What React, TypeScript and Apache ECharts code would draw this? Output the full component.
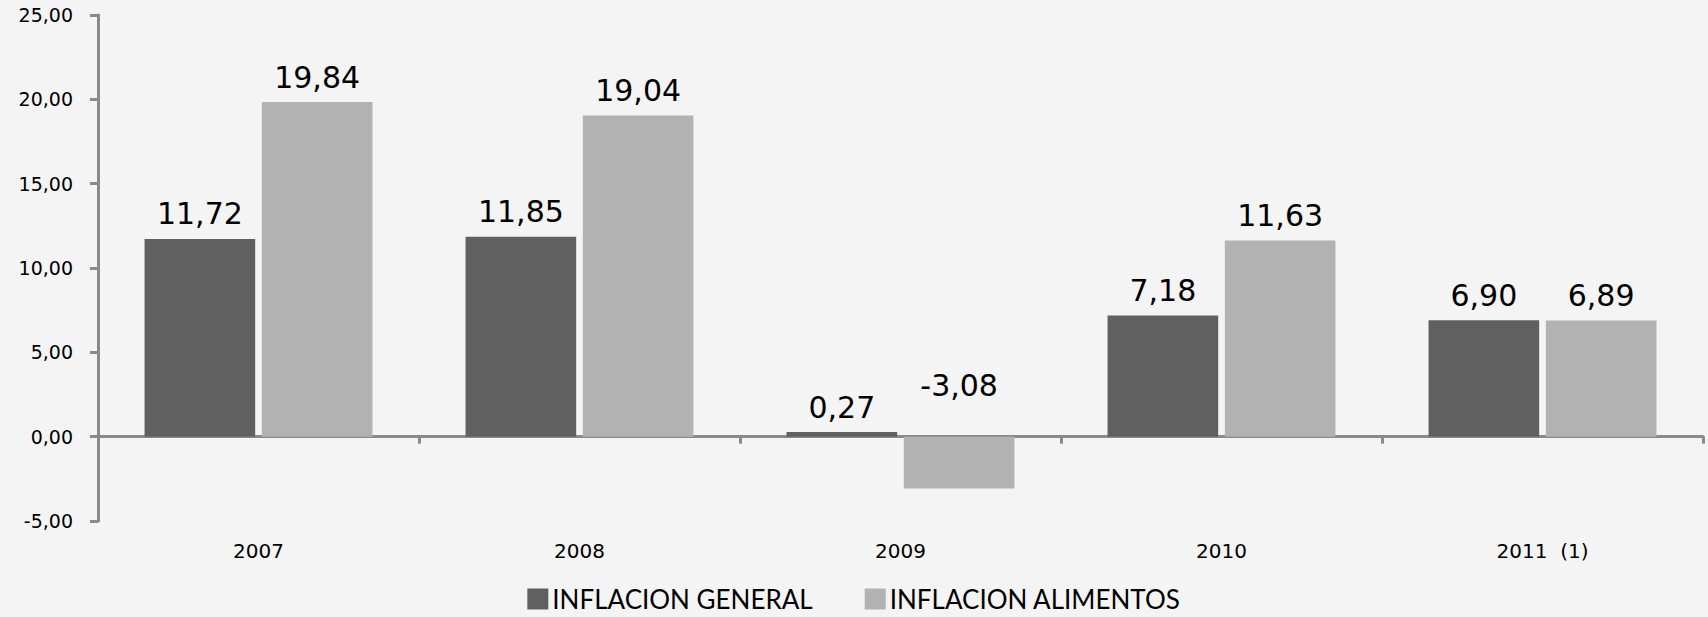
import React, { useEffect, useRef } from "react";
import * as echarts from "echarts";

const categories = ["2007", "2008", "2009", "2010", "2011  (1)"];
const inflacionGeneral = [11.72, 11.85, 0.27, 7.18, 6.9];
const inflacionAlimentos = [19.84, 19.04, -3.08, 11.63, 6.89];
const seriesNames = ["INFLACION GENERAL", "INFLACION ALIMENTOS"];

const fmt = (v: number) => v.toFixed(2).replace(".", ",");

export default function App() {
  const ref = useRef<HTMLDivElement>(null);
  useEffect(() => {
    if (!ref.current) return;
    const chart = echarts.init(ref.current, null, { renderer: "svg" });
    const labelStyle = {
      show: true,
      position: "top" as const,
      distance: 10,
      color: "#000",
      fontSize: 30,
      fontFamily: "DejaVu Sans",
      formatter: (p: any) => fmt(p.value),
    };
    const toItems = (arr: number[]) =>
      arr.map((v) => (v < 0 ? { value: v, label: { distance: 36 } } : v));
    chart.setOption({
      animation: false,
      backgroundColor: "#f4f4f4",
      grid: { left: 98, right: 5, top: 15, bottom: 96 },
      legend: {
        bottom: 0,
        left: "center",
        itemWidth: 21,
        itemHeight: 21,
        itemGap: 52,
        icon: "rect",
        textStyle: {
          fontFamily: "Lato",
          fontSize: 26,
          color: "#000",
          padding: [0, 0, 0, -1],
        },
        data: seriesNames,
      },
      xAxis: [
        {
          type: "category",
          data: categories,
          position: "bottom",
          axisLine: { show: false, onZero: false },
          axisTick: { show: false },
          axisLabel: { fontFamily: "DejaVu Sans", fontSize: 20, color: "#000", margin: 20 },
        },
        {
          type: "category",
          data: categories,
          position: "bottom",
          axisLine: { show: true, onZero: true, lineStyle: { color: "#8a8a8a", width: 3 } },
          axisTick: { show: true, length: 7, lineStyle: { color: "#8a8a8a", width: 3 } },
          axisLabel: { show: false },
        },
      ],
      yAxis: {
        type: "value",
        min: -5,
        max: 25,
        interval: 5,
        splitLine: { show: false },
        axisLine: { show: true, lineStyle: { color: "#8a8a8a", width: 3 } },
        axisTick: { show: true, length: 8, lineStyle: { color: "#8a8a8a", width: 3 } },
        axisLabel: {
          fontFamily: "DejaVu Sans",
          fontSize: 19,
          color: "#000",
          margin: 25,
          formatter: (v: number) => fmt(v),
        },
      },
      series: [
        {
          name: seriesNames[0],
          type: "bar",
          data: toItems(inflacionGeneral),
          itemStyle: { color: "#606060" },
          barCategoryGap: "29%",
          barGap: "6%",
          label: labelStyle,
        },
        {
          name: seriesNames[1],
          type: "bar",
          data: toItems(inflacionAlimentos),
          itemStyle: { color: "#b2b2b2" },
          barCategoryGap: "29%",
          barGap: "6%",
          label: labelStyle,
        },
      ],
    });
    return () => chart.dispose();
  }, []);
  return (
    <div
      ref={ref}
      style={{ position: "fixed", left: 0, top: 0, width: 1708, height: 617 }}
    />
  );
}
